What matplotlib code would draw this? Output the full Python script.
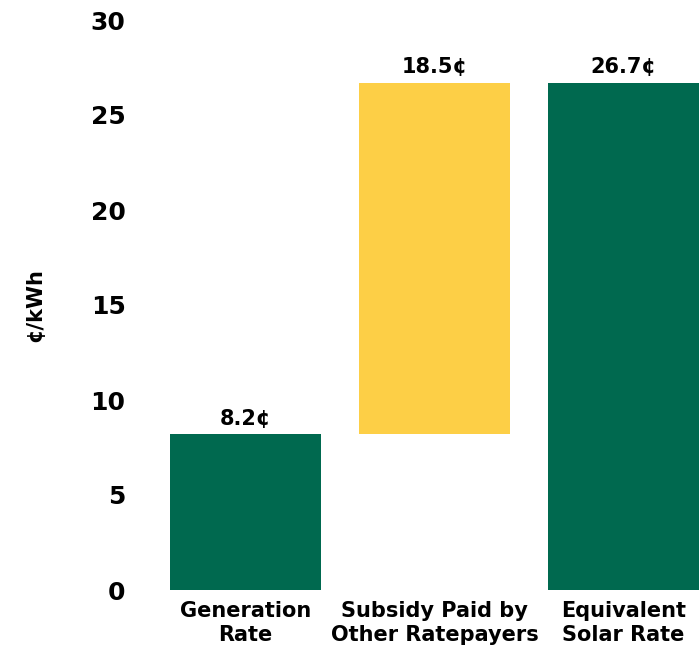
import matplotlib
matplotlib.use("Agg")
import matplotlib.pyplot as plt

# data
categories = ["Generation\nRate", "Subsidy Paid by\nOther Ratepayers", "Equivalent\nSolar Rate"]
bottoms = [0, 8.2, 0]
heights = [8.2, 18.5, 26.7]
labels = ["8.2¢", "18.5¢", "26.7¢"]
colors = ["#00694F", "#FDCF46", "#00694F"]

plt.rcParams['font.family'] = ['DejaVu Sans']
plt.rcParams['font.weight'] = 'bold'

fig = plt.figure(figsize=(7, 6.55), dpi=100)
ax = fig.add_axes([170/700, 65/655, 529/700, 570/655])

x = range(len(categories))
bars = ax.bar(x, heights, bottom=bottoms, width=0.8, color=colors)

for bar, lab in zip(bars, labels):
    top = bar.get_y() + bar.get_height()
    ax.annotate(lab, (bar.get_x() + bar.get_width() / 2, top),
                xytext=(0, 4), textcoords='offset points',
                ha='center', va='bottom', fontsize=15, fontweight='bold')

ax.set_xlim(-0.4, 2.4)
ax.set_ylim(0, 30)
ax.set_yticks(range(0, 31, 5))
ax.set_xticks(list(x))
ax.set_xticklabels(categories, fontsize=15, fontweight='bold', linespacing=1.25)
ax.tick_params(axis='y', length=0, pad=32, labelsize=18)
ax.tick_params(axis='x', length=0, pad=8)
for s in ax.spines.values():
    s.set_visible(False)

fig.text(35/700, 1 - 305/655, "¢/kWh", rotation=90, ha='center', va='center',
         fontsize=15, fontweight='bold')

fig.savefig("out.png", dpi=100)
